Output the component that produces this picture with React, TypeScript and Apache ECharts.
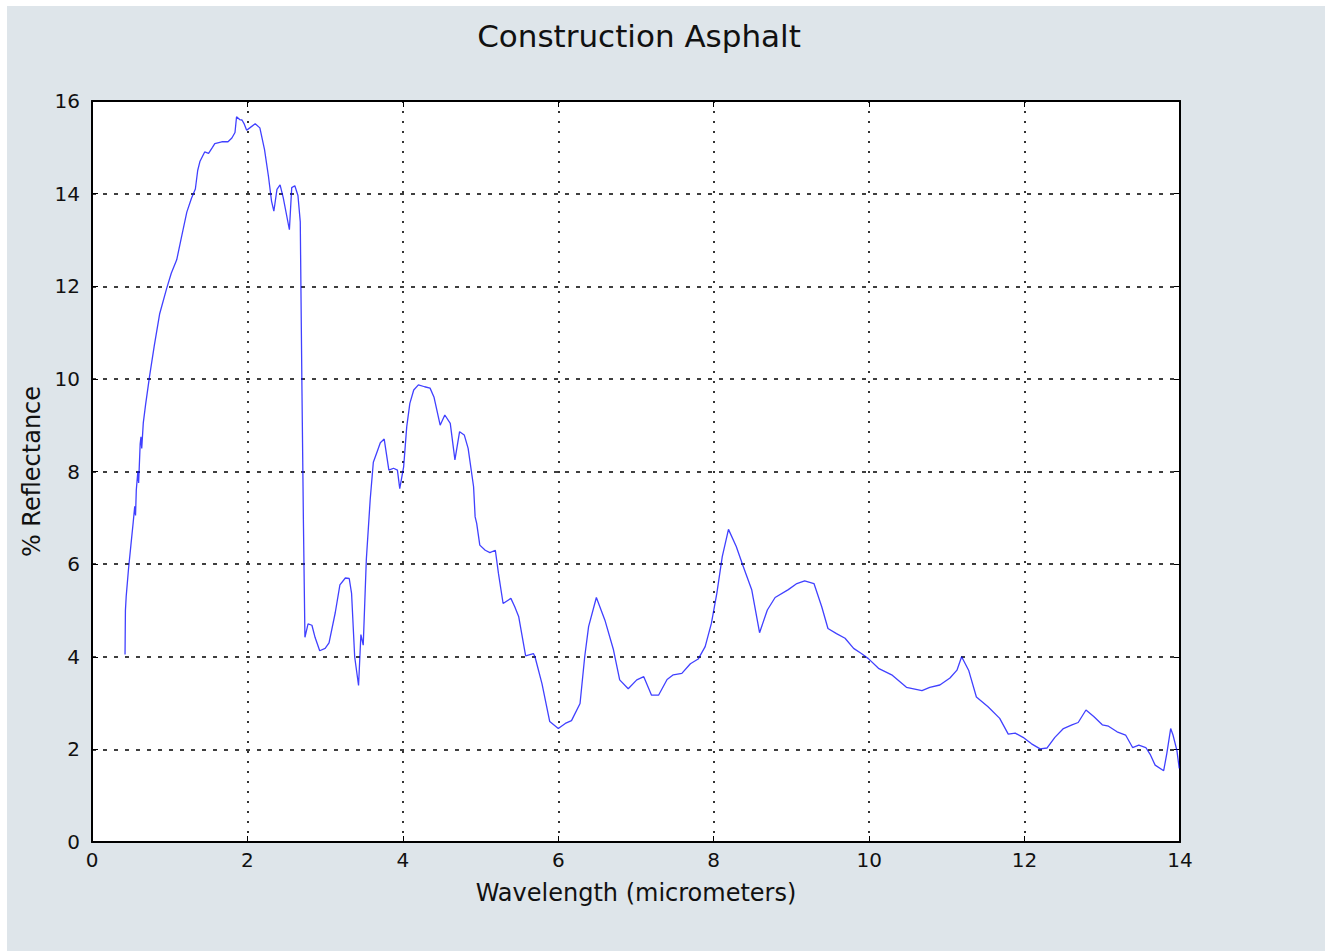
import React, { useEffect, useRef } from "react";
import * as echarts from "echarts";

const wavelength: number[] = [
  0.425, 0.43, 0.44, 0.47, 0.5, 0.53, 0.55, 0.56, 0.57, 0.59, 0.6, 0.62, 0.63, 0.64, 0.66, 0.69, 0.74, 0.8, 0.87, 0.96,
  1.02, 1.09, 1.15, 1.22, 1.28, 1.33, 1.36, 1.39, 1.45, 1.5, 1.55, 1.58, 1.67, 1.75, 1.8, 1.84, 1.86, 1.9, 1.93, 1.96,
  1.99, 2.03, 2.1, 2.16, 2.22, 2.27, 2.31, 2.34, 2.38, 2.42, 2.46, 2.54, 2.57, 2.61, 2.65, 2.68, 2.7, 2.72, 2.74, 2.78,
  2.83, 2.87, 2.93, 3.0, 3.05, 3.13, 3.19, 3.26, 3.31, 3.34, 3.38, 3.43, 3.46, 3.49, 3.53, 3.58, 3.62, 3.67, 3.71, 3.76,
  3.82, 3.88, 3.93, 3.96, 4.01, 4.05, 4.09, 4.14, 4.2, 4.28, 4.35, 4.4, 4.48, 4.54, 4.61, 4.67, 4.73, 4.79, 4.84, 4.91,
  4.93, 4.95, 4.99, 5.06, 5.12, 5.19, 5.23, 5.29, 5.39, 5.44, 5.49, 5.58, 5.68, 5.7, 5.79, 5.89, 6.0, 6.09, 6.17, 6.28,
  6.34, 6.39, 6.49, 6.6, 6.71, 6.79, 6.9, 7.01, 7.1, 7.2, 7.29, 7.4, 7.48, 7.59, 7.7, 7.8, 7.89, 7.97, 8.04, 8.11,
  8.19, 8.29, 8.38, 8.49, 8.59, 8.69, 8.79, 8.96, 9.07, 9.17, 9.29, 9.39, 9.47, 9.58, 9.69, 9.8, 9.9, 9.99, 10.12, 10.29,
  10.48, 10.68, 10.78, 10.91, 11.04, 11.13, 11.19, 11.28, 11.38, 11.53, 11.68, 11.79, 11.88, 11.98, 12.09, 12.2, 12.29, 12.39, 12.5, 12.61,
  12.69, 12.79, 12.89, 13.0, 13.08, 13.19, 13.3, 13.39, 13.47, 13.56, 13.62, 13.68, 13.79, 13.83, 13.88, 13.91, 13.96, 13.99,
];

const reflectance: number[] = [
  4.05, 5.0, 5.3, 5.9, 6.4, 6.9, 7.25, 7.05, 7.6, 8.0, 7.75, 8.6, 8.75, 8.5, 9.05, 9.45, 10.05, 10.7, 11.4, 11.95,
  12.28, 12.57, 13.05, 13.6, 13.9, 14.1, 14.5, 14.7, 14.9, 14.87, 15.0, 15.08, 15.12, 15.12, 15.2, 15.32, 15.66, 15.6, 15.59, 15.5,
  15.37, 15.42, 15.51, 15.42, 14.95, 14.38, 13.84, 13.62, 14.09, 14.19, 13.92, 13.22, 14.13, 14.17, 13.96, 13.39, 10.02, 6.97, 4.42, 4.71,
  4.68, 4.42, 4.13, 4.18, 4.3, 4.95, 5.55, 5.7, 5.69, 5.37, 4.0, 3.38, 4.48, 4.25, 6.1, 7.4, 8.2, 8.43, 8.62, 8.7,
  8.03, 8.07, 8.03, 7.63, 8.1, 8.97, 9.47, 9.76, 9.87, 9.83, 9.8, 9.61, 9.0, 9.22, 9.04, 8.25, 8.86, 8.79, 8.5, 7.67,
  7.02, 6.88, 6.41, 6.3, 6.25, 6.3, 5.8, 5.15, 5.26, 5.08, 4.87, 4.02, 4.07, 4.0, 3.42, 2.6, 2.45, 2.56, 2.62, 2.99,
  4.0, 4.65, 5.28, 4.79, 4.15, 3.5, 3.31, 3.5, 3.57, 3.17, 3.17, 3.51, 3.61, 3.64, 3.85, 3.95, 4.22, 4.72, 5.37, 6.16,
  6.75, 6.38, 5.95, 5.44, 4.52, 5.01, 5.28, 5.45, 5.58, 5.64, 5.58, 5.08, 4.61, 4.5, 4.4, 4.18, 4.07, 3.96, 3.75, 3.61,
  3.34, 3.27, 3.34, 3.39, 3.54, 3.71, 4.0, 3.71, 3.13, 2.92, 2.67, 2.33, 2.35, 2.26, 2.12, 2.01, 2.03, 2.26, 2.45, 2.53,
  2.58, 2.85, 2.71, 2.53, 2.5, 2.38, 2.31, 2.04, 2.09, 2.04, 1.88, 1.66, 1.54, 1.91, 2.45, 2.31, 1.98, 1.59,
];

const titleText = "Construction Asphalt";
const xAxisName = "Wavelength (micrometers)";
const yAxisName = "% Reflectance";
const xMin = 0;
const xMax = 14;
const xStep = 2;
const yMin = 0;
const yMax = 16;
const yStep = 2;

const FONT = "'DejaVu Sans', 'Bitstream Vera Sans', sans-serif";

export default function App() {
  const ref = useRef<HTMLDivElement>(null);

  useEffect(() => {
    if (!ref.current) return;
    const chart = echarts.init(ref.current, null, { renderer: "svg" });
    const data = wavelength.map((w, i) => [w, reflectance[i]]);
    const frame = { show: true, onZero: false, lineStyle: { color: "#000", width: 2 } };
    const tick = { show: true, inside: true, length: 6, lineStyle: { color: "#000", width: 1 } };
    chart.setOption({
      animation: false,
      backgroundColor: "transparent",
      textStyle: { fontFamily: FONT },
      graphic: [
        {
          type: "text",
          x: 632,
          y: 30,
          style: {
            text: titleText,
            fill: "#111",
            font: `31px ${FONT}`,
            textAlign: "center",
            textVerticalAlign: "middle",
          },
        },
      ],
      grid: { left: 85, top: 95, right: 145, bottom: 109, backgroundColor: "#fff", show: true, borderWidth: 0 },
      xAxis: [
        {
          type: "value",
          min: xMin,
          max: xMax,
          interval: xStep,
          position: "bottom",
          axisLine: frame,
          axisTick: tick,
          axisLabel: { color: "#111", fontSize: 20, margin: 8, fontFamily: FONT },
          splitLine: { show: true, lineStyle: { color: "#000", width: 1.6, type: [2, 8] } },
          name: xAxisName,
          nameLocation: "middle",
          nameGap: 39,
          nameTextStyle: { color: "#111", fontSize: 24, fontFamily: FONT },
        },
        {
          type: "value",
          min: xMin,
          max: xMax,
          interval: xStep,
          position: "top",
          axisLine: frame,
          axisTick: tick,
          axisLabel: { show: false },
          splitLine: { show: false },
        },
      ],
      yAxis: [
        {
          type: "value",
          min: yMin,
          max: yMax,
          interval: yStep,
          position: "left",
          axisLine: frame,
          axisTick: tick,
          axisLabel: { color: "#111", fontSize: 20, margin: 12, fontFamily: FONT },
          splitLine: { show: true, lineStyle: { color: "#000", width: 1.6, type: [4, 7] } },
          name: yAxisName,
          nameLocation: "middle",
          nameGap: 48,
          nameTextStyle: { color: "#111", fontSize: 24, fontFamily: FONT },
        },
        {
          type: "value",
          min: yMin,
          max: yMax,
          interval: yStep,
          position: "right",
          axisLine: frame,
          axisTick: tick,
          axisLabel: { show: false },
          splitLine: { show: false },
        },
      ],
      series: [
        {
          type: "line",
          data,
          xAxisIndex: 0,
          yAxisIndex: 0,
          showSymbol: false,
          symbol: "none",
          lineStyle: { color: "#0000ff", width: 1.3, opacity: 0.75 },
          z: 5,
        },
      ],
    });
    return () => chart.dispose();
  }, []);

  return (
    <div
      style={{
        position: "absolute",
        left: 7,
        top: 6,
        width: 1318,
        height: 945,
        background: "#dee5ea",
      }}
    >
      <div ref={ref} style={{ width: 1318, height: 945 }} />
    </div>
  );
}
